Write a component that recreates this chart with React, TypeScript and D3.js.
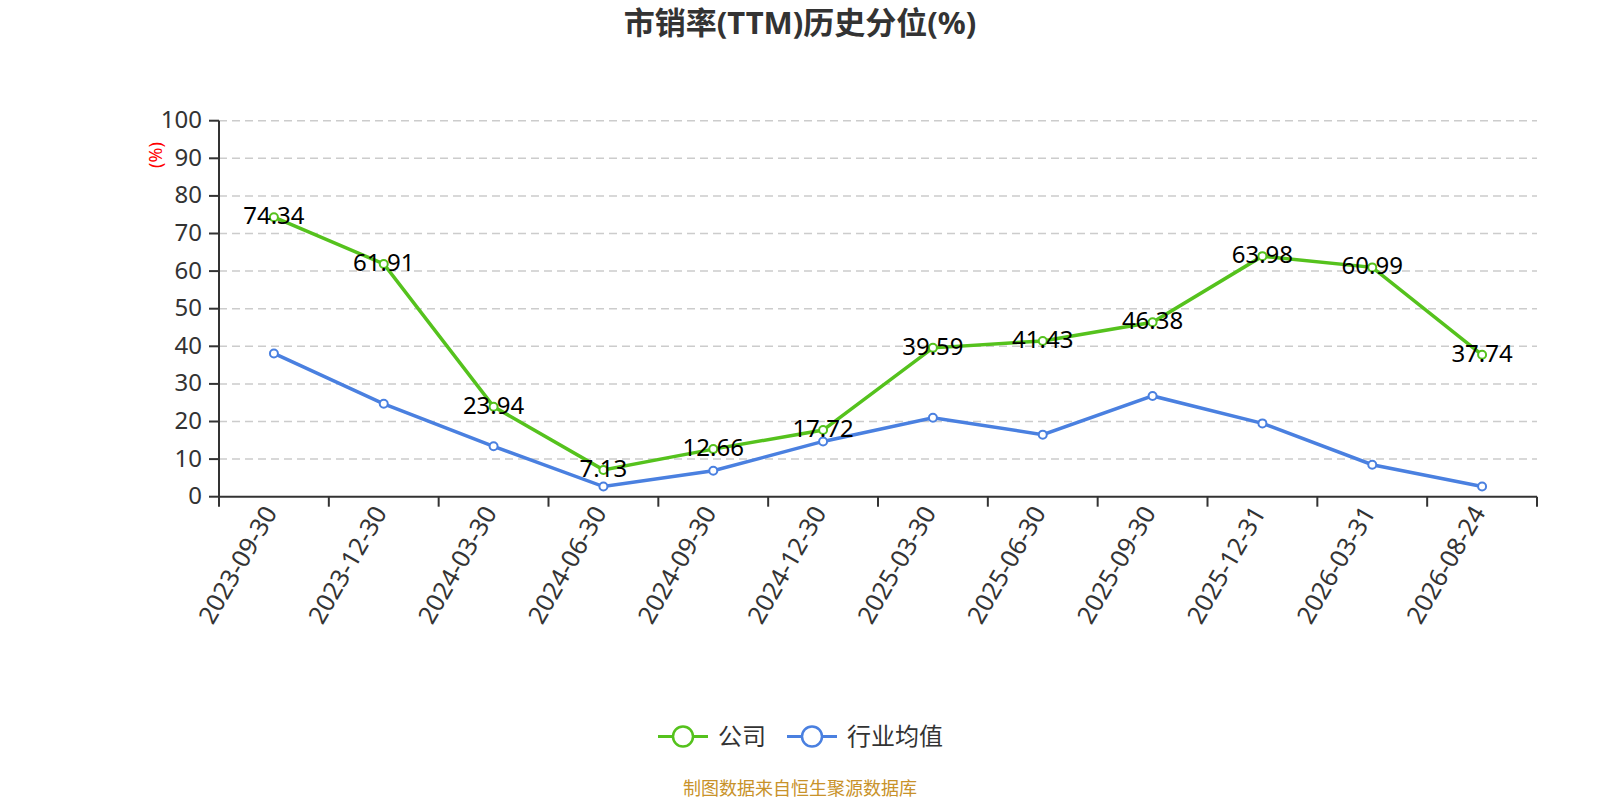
import React from "react";
import * as d3 from "d3";

const categories = ["2023-09-30","2023-12-30","2024-03-30","2024-06-30","2024-09-30","2024-12-30","2025-03-30","2025-06-30","2025-09-30","2025-12-31","2026-03-31","2026-08-24"];
const companyValues = [74.34, 61.91, 23.94, 7.13, 12.66, 17.72, 39.59, 41.43, 46.38, 63.98, 60.99, 37.74];
const industryValues = [38.1, 24.7, 13.4, 2.7, 6.9, 14.7, 21.0, 16.5, 26.8, 19.5, 8.5, 2.7];
const yTicks = [0, 10, 20, 30, 40, 50, 60, 70, 80, 90, 100];
const seriesNames = ["公司", "行业均值"];
const title = "市销率(TTM)历史分位(%)";
const footer = "制图数据来自恒生聚源数据库";

const GREEN = "#55c21d";
const BLUE = "#4a80e0";
const FONT = "'Noto Sans', 'Noto Sans CJK SC', sans-serif";

export default function App() {
  const W = 1600, H = 800;
  const left = 219, right = 1537, top = 120.7, bottom = 496.7;
  const x = d3.scaleBand<string>().domain(categories).range([left, right]);
  const y = d3.scaleLinear().domain([0, 100]).range([bottom, top]);
  const cx = (c: string) => (x(c) as number) + x.bandwidth() / 2;
  const line = d3.line<number>().x((_, i) => cx(categories[i])).y((d) => y(d));
  const series = [
    { name: seriesNames[0], values: companyValues, color: GREEN, labels: true },
    { name: seriesNames[1], values: industryValues, color: BLUE, labels: false },
  ];
  const tickXs = categories.map((c) => x(c) as number).concat([right]);

  return (
    <svg width={W} height={H} style={{ display: "block", position: "absolute", left: 0, top: 0 }} fontFamily={FONT}>
      <rect width={W} height={H} fill="#fff" />
      <text x={800} y={34} textAnchor="middle" fontSize={31} fontWeight="bold" fill="#333">{title}</text>
      {/* grid */}
      {yTicks.filter((t) => t > 0).map((t) => (
        <line key={t} x1={left} x2={right} y1={y(t)} y2={y(t)} stroke="#ccc" strokeWidth={1.5} strokeDasharray="8,5" />
      ))}
      {/* y axis */}
      <line x1={left} x2={left} y1={top} y2={bottom} stroke="#333" strokeWidth={2} />
      {yTicks.map((t) => (
        <g key={t}>
          <line x1={left - 10} x2={left} y1={y(t)} y2={y(t)} stroke="#333" strokeWidth={2} />
          <text x={202} y={y(t) + 7.5} textAnchor="end" fontSize={24} fill="#333">{t}</text>
        </g>
      ))}
      <text transform={`translate(162,155) rotate(-90)`} textAnchor="middle" fontSize={18} fill="red">(%)</text>
      {/* x axis */}
      <line x1={left} x2={right} y1={bottom} y2={bottom} stroke="#333" strokeWidth={2} />
      {tickXs.map((tx, i) => (
        <line key={i} x1={tx} x2={tx} y1={bottom} y2={bottom + 10} stroke="#333" strokeWidth={2} />
      ))}
      {categories.map((c) => (
        <text key={c} transform={`translate(${cx(c) + 4},${bottom + 16}) rotate(-60)`} textAnchor="end" fontSize={25} fill="#333">{c}</text>
      ))}
      {/* series */}
      {series.map((s) => (
        <g key={s.name}>
          <path d={line(s.values) as string} fill="none" stroke={s.color} strokeWidth={3.5} />
          {s.values.map((v, i) => (
            <circle key={i} cx={cx(categories[i])} cy={y(v)} r={4} fill="#fff" stroke={s.color} strokeWidth={2} />
          ))}
        </g>
      ))}
      {series.filter((s) => s.labels).map((s) => (
        <g key={s.name + "l"}>
          {s.values.map((v, i) => (
            <text key={i} x={cx(categories[i])} y={y(v) + 7} textAnchor="middle" fontSize={24} fill="#000">{v.toFixed(2)}</text>
          ))}
        </g>
      ))}
      {/* legend */}
      {[{ s: series[0], x0: 658, tx: 718 }, { s: series[1], x0: 787, tx: 847 }].map(({ s, x0, tx }) => (
        <g key={s.name}>
          <line x1={x0} x2={x0 + 50} y1={736.5} y2={736.5} stroke={s.color} strokeWidth={3} />
          <circle cx={x0 + 25} cy={736.5} r={10} fill="#fff" stroke={s.color} strokeWidth={2.5} />
          <text x={tx} y={745} fontSize={24} fill="#333">{s.name}</text>
        </g>
      ))}
      <text x={800} y={795} textAnchor="middle" fontSize={18} fill="#c8922a">{footer}</text>
    </svg>
  );
}
